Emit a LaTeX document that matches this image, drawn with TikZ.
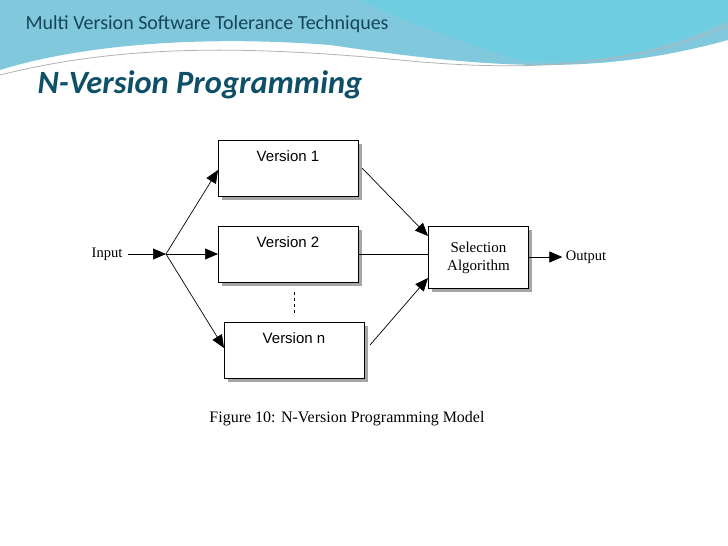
\documentclass[tikz,border=0pt]{standalone}
\usepackage{fontspec}
\setmainfont{Liberation Serif}
\newfontfamily\hd{Carlito}
\newfontfamily\ar{Liberation Sans}
\usetikzlibrary{arrows.meta}
\definecolor{hdrA}{RGB}{130,200,220}
\definecolor{hdrB}{RGB}{110,205,225}
\definecolor{hdtxt}{RGB}{20,70,90}
\definecolor{tttxt}{RGB}{15,80,105}
\begin{document}
\begin{tikzpicture}[x=1pt,y=-1pt,
  vbox/.style={draw,line width=0.9pt,fill=white,minimum width=140pt,minimum height=56pt,anchor=north west},
  shad/.style={fill=gray!70},
  con/.style={-{Triangle[length=13pt,width=11pt]},line width=0.7pt}]
\useasboundingbox (0,0) rectangle (728,546);
\fill[white] (0,0) rectangle (728,546);
% header
\fill[hdrA] (0,0) -- (728,0) -- (728,40) .. controls (600,75) and (500,70) .. (330,45) .. controls (200,35) and (80,45) .. (0,70) -- cycle;
\fill[hdrB] (360,0) -- (728,0) -- (728,20) .. controls (650,60) and (560,65) .. (520,60) .. controls (450,40) and (380,10) .. (360,0) -- cycle;
\draw[gray!60,line width=0.8pt] (0,75) .. controls (120,45) and (240,45) .. (400,60) .. controls (550,75) and (650,60) .. (728,25);
\node[anchor=west,text=hdtxt,font=\hd\fontsize{20}{23}\selectfont] (hdr) at (22,24) {Multi Version Software Tolerance Techniques};
\node[anchor=west,text=tttxt,font=\hd\bfseries\itshape\fontsize{32.5}{36}\selectfont] (ttl) at (34,85) {N-Version Programming};
% diagram
\foreach \x/\y in {218/140,218/226,224/322}{\fill[shad] (\x+4,\y+4) rectangle (\x+144,\y+60);}
\fill[shad] (432,230) rectangle (532,292);
\node[vbox] (v1) at (218,140) {};
\node[vbox] (v2) at (218,226) {};
\node[vbox] (vn) at (224,322) {};
\node[font=\ar\fontsize{15}{18}\selectfont] at (288,156) {Version 1};
\node[font=\ar\fontsize{15}{18}\selectfont] at (288,242) {Version 2};
\node[font=\ar\fontsize{15}{18}\selectfont] at (294,338) {Version n};
\node[draw,line width=0.9pt,fill=white,minimum width=100pt,minimum height=62pt,anchor=north west,align=center,font=\fontsize{15}{18}\selectfont] (sel) at (428,226) {Selection\\Algorithm};
\node[font=\fontsize{14.5}{17}\selectfont] (in) at (107,254) {Input};
\node[font=\fontsize{14.5}{17}\selectfont] (out) at (586,257) {Output};
\coordinate (sp) at (166,254);
\draw[con] (in.east)++(2,0) -- (sp);
\draw[con] (sp) -- (v1.west|-0,170) ;
\draw[con] (sp) -- (v2.west|-sp);
\draw[con] (sp) -- (vn.west|-0,348);
\draw[con] (362,168) -- (sel.west|-0,236);
\draw[line width=0.7pt] (v2.east|-sp) -- (sel.west|-sp);
\draw[con] (370,345) -- (sel.west|-0,278);
\draw[con] (sel.east|-0,257) -- (out.west);
\draw[dashed,line width=0.7pt] (294,292) -- (294,316);
\node[font=\fontsize{16}{19}\selectfont] (cap) at (347,419) {Figure 10: N-Version Programming Model};
\end{tikzpicture}
\end{document}
